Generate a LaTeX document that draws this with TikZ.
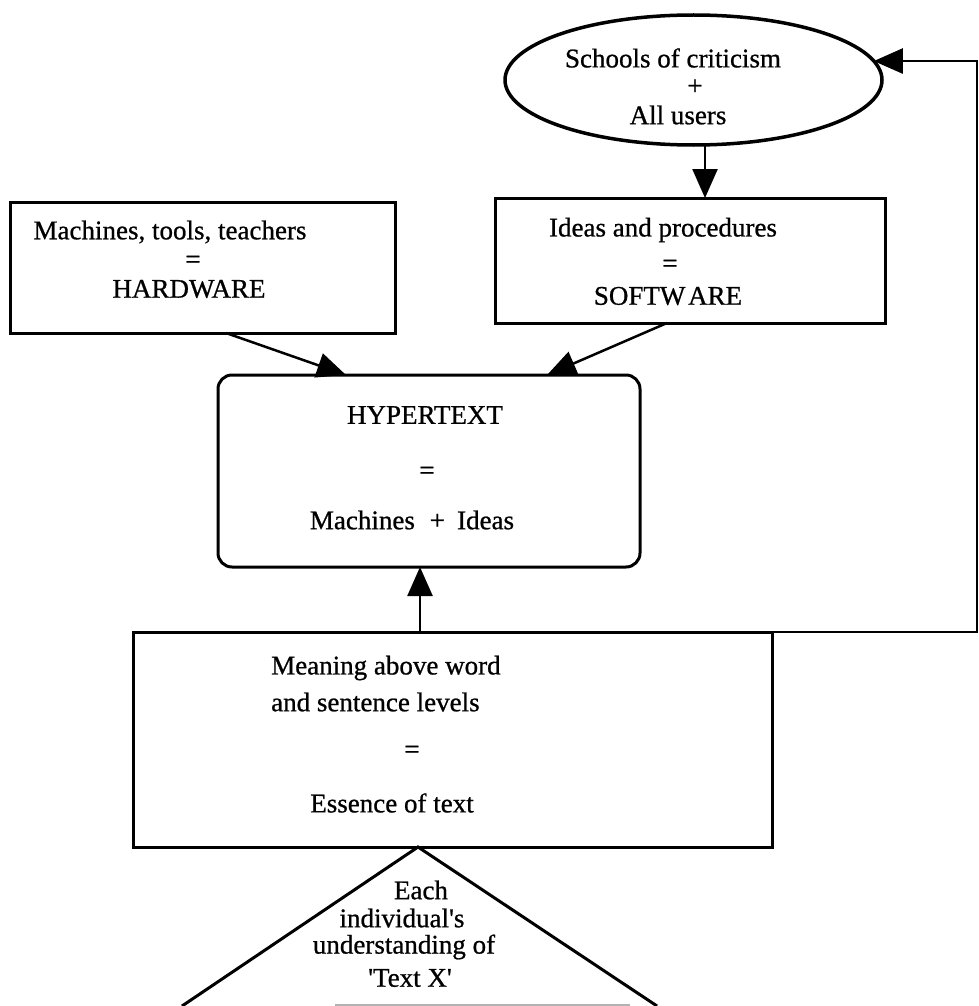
\documentclass[tikz,border=0pt]{standalone}
\usepackage{fontspec}
\setmainfont{Liberation Serif}[FakeBold=0.8]
\usetikzlibrary{arrows.meta,shapes.geometric,calc}

\tikzset{
  box/.style={draw, line width=3pt, inner sep=0pt, outer sep=0pt},
  oval/.style={draw, ellipse, line width=3.5pt, inner sep=0pt, outer sep=0pt},
  txt/.style={inner sep=0pt, font=\fontsize{27}{30}\selectfont},
  conn/.style={line width=2.5pt},
  arr/.style={conn, -{Triangle[length=29pt,width=25pt]}},
}

\begin{document}
\begin{tikzpicture}[x=1pt, y=-1pt]
\useasboundingbox (0,0) rectangle (979,1006);

% shapes
\node[oval, minimum width=377pt, minimum height=130pt] (el) at (693.5,80) {};
\node[box, minimum width=385pt, minimum height=131pt] (hw) at (202.5,267.5) {};
\node[box, minimum width=390pt, minimum height=125pt] (sw) at (690,260.5) {};
\node[box, rounded corners=14pt, minimum width=422pt, minimum height=192pt] (ht) at (429,471) {};
\node[box, minimum width=639pt, minimum height=215pt] (mn) at (452.5,739.5) {};

% texts
\node[txt] (el1) at (673,58) {Schools of criticism};
\node[txt] (el2) at (695,87) {+};
\node[txt] (el3) at (678,115) {All users};

\node[txt] (hw1) at (170,232) {Machines, tools, teachers};
\node[txt] (hw2) at (193,262) {=};
\node[txt] (hw3) at (189,289) {HARDWARE};

\node[txt] (sw1) at (663,230) {Ideas and procedures};
\node[txt] (sw2) at (670,266) {=};
\node[txt] (sw3) at (668,296) {SOFTW\hspace{0.1em}ARE};

\node[txt] (ht1) at (425,415) {HYPERTEXT};
\node[txt] (ht2) at (427,473) {=};
\node[txt] (ht3) at (412,520) {Machines\hspace{0.55em}+\hspace{0.45em}Ideas};

\node[txt, anchor=west] (mn1) at (271,668) {Meaning above word};
\node[txt, anchor=west] (mn2) at (271,702) {and sentence levels};
\node[txt] (mn3) at (412,752) {=};
\node[txt] (mn4) at (392,803) {Essence of text};

\node[txt] (tr1) at (421,890) {Each};
\node[txt] (tr2) at (402,918) {individual\textquotesingle s};
\node[txt] (tr3) at (404,947) {understanding of};
\node[txt] (tr4) at (410,978) {\textquotesingle Text X\textquotesingle};

% connector end points
\coordinate (elout) at (705,145);
\coordinate (hwout) at (226,333);
\coordinate (htinL) at (346,375);
\coordinate (swout) at (667,323);
\coordinate (htinR) at (547,375);
\coordinate (rcorner) at (977,632);
\coordinate (apex) at (418,847);
\coordinate (baseL) at (182,1006);
\coordinate (baseR) at (657,1006);

% connectors
\draw[arr] (elout) -- (sw.north -| elout);
\draw[arr] (hwout) -- (htinL);
\draw[arr] (swout) -- (htinR);
\draw[arr] (mn.north -| 420,0) -- (ht.south -| 420,0);
\draw[arr] (mn.north east) -- (rcorner) |- (el.6);

% pyramid below the text box
\draw[line width=3pt] (baseL) -- (apex) -- (baseR);
\draw[gray!60, line width=1.5pt] (335,1005) -- (630,1005);
\end{tikzpicture}
\end{document}
